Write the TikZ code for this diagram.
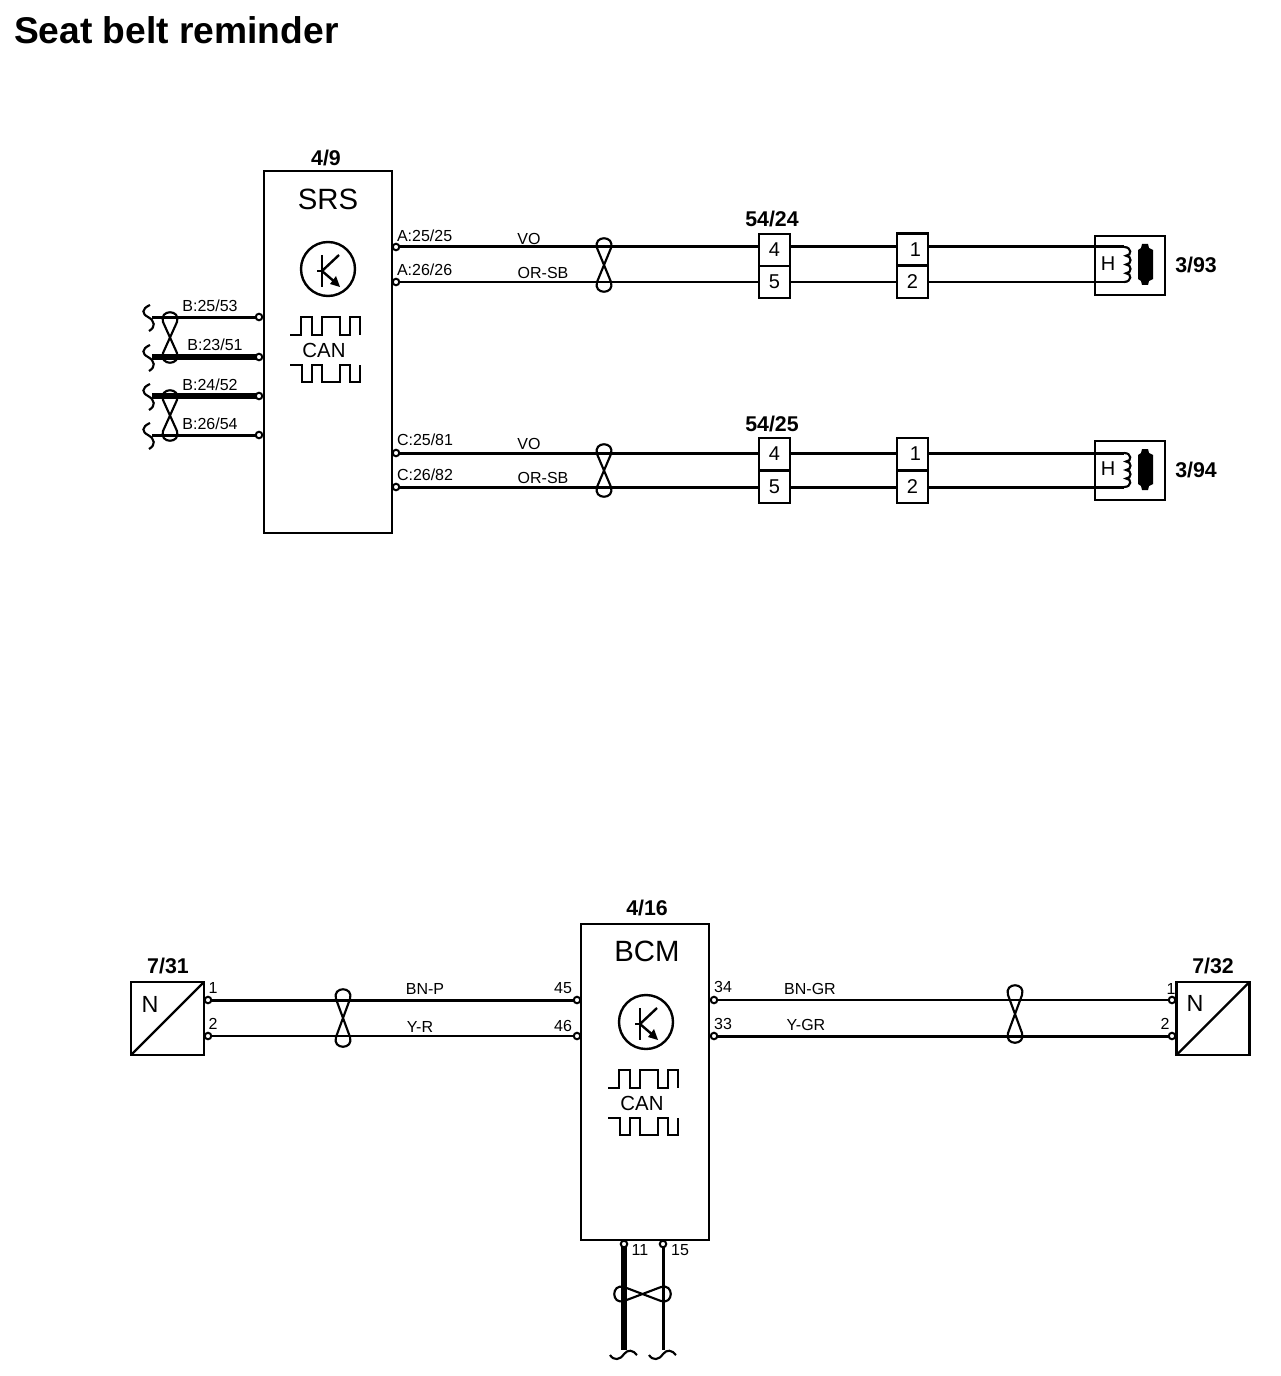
\documentclass[tikz,border=0pt]{standalone}
\usepackage{fontspec}
\setmainfont{Liberation Sans}
\newcommand\fs[1]{\fontsize{#1pt}{#1pt}\selectfont}
\newcommand\vtwist[3]{% x, top tip, bottom tip
  \pgfmathsetmacro\tm{(#2+#3)/2}
  \draw[lobe] (#1,\tm) -- (#1-7,#2+10) .. controls (#1-11,#2-3) and (#1+11,#2-3) .. (#1+7,#2+10) -- (#1-7,#3-10) .. controls (#1-11,#3+3) and (#1+11,#3+3) .. (#1+7,#3-10) -- cycle;}
\newcommand\htwist[3]{% y, left tip, right tip
  \pgfmathsetmacro\tm{(#2+#3)/2}
  \draw[lobe] (\tm,#1) -- (#2+10,#1-7) .. controls (#2-3,#1-11) and (#2-3,#1+11) .. (#2+10,#1+7) -- (#3-10,#1-7) .. controls (#3+3,#1-11) and (#3+3,#1+11) .. (#3-10,#1+7) -- cycle;}
\newcommand\lsquig[2]{% x of wire end, y of wire
  \draw[lobe] (#1-2,#2-12) .. controls (#1-11,#2-8) and (#1-10,#2-3) .. (#1-4,#2) .. controls (#1+3,#2+4) and (#1+4,#2+10) .. (#1-3,#2+14);}
\newcommand\bsquig[2]{% x of wire end, y of wire end
  \draw[lobe] (#1-14,#2+5) .. controls (#1-10,#2+11) and (#1-4,#2+10) .. (#1,#2+4) .. controls (#1+4,#2-1) and (#1+9,#2) .. (#1+13,#2+5);}
\newcommand\coil[3]{% x, top y, bottom y
  \pgfmathsetmacro\cb{#2+(#3-#2)/4}
  \pgfmathsetmacro\cc{#2+(#3-#2)/2}
  \pgfmathsetmacro\cd{#2+3*(#3-#2)/4}
  \draw[lobe] (#1,#2)
   .. controls (#1+8,#2) and (#1+8,\cb) .. (#1+2,\cb)
   .. controls (#1+8,\cb) and (#1+8,\cc) .. (#1+2,\cc)
   .. controls (#1+8,\cc) and (#1+8,\cd) .. (#1+2,\cd)
   .. controls (#1+8,\cd) and (#1+8,#3) .. (#1,#3);}
\newcommand\heatbar[1]{% top wire y
  \fill (1142,#1-3) -- (1148,#1-3) -- (1149,#1+1) -- (1153,#1+3) -- (1153,#1+32) -- (1149,#1+34) -- (1148,#1+38) -- (1142,#1+38) -- (1141,#1+34) -- (1138,#1+32) -- (1138,#1+3) -- (1141,#1+1) -- cycle;}
\newcommand\ecuinner[3]{% name, dx, dy
  \begin{scope}[shift={(#2,#3)}]
    \node[sym,minimum size=54*0.75pt] (#1tr) at (328,269) {};
    \draw[sw] (317,271) -- (322,271);
    \draw[line width=2.2pt] (322,255) -- (322,287);
    \draw[sw] (322,271) -- (339,255);
    \draw[sw] (322,271) -- (336,283);
    \fill (340,287) -- (330,284) -- (336,276) -- cycle;
    \draw[sw] (290,335) -- (301,335) -- (301,317) -- (312,317) -- (312,335) -- (322,335) -- (322,317) -- (340,317) -- (340,335) -- (350,335) -- (350,317) -- (360,317) -- (360,335);
    \draw[sw] (290,365) -- (302,365) -- (302,382) -- (312,382) -- (312,365) -- (322,365) -- (322,382) -- (340,382) -- (340,365) -- (350,365) -- (350,382) -- (360,382) -- (360,365);
    \node[txt,font=\fs{15.3}] (#1can) at (324,350) {CAN};
  \end{scope}}
\tikzset{
  x=0.75pt,y=-0.75pt,
  box/.style={draw,line width=1.8pt,inner sep=0pt,outer sep=0pt,rectangle,fill=white},
  cell/.style={draw,line width=1.7pt,inner sep=0pt,outer sep=0pt,rectangle,minimum width=31*0.75pt,minimum height=32*0.75pt,font=\fs{15}},
  pinc/.style={circle,draw,line width=1.5pt,fill=white,inner sep=0pt,outer sep=0pt,minimum size=6.5*0.75pt},
  txt/.style={inner sep=0pt,outer sep=0pt},
  small/.style={txt,font=\fs{12}},
  tag/.style={txt,font=\fs{16}\bfseries},
  sym/.style={circle,draw,line width=1.8pt,inner sep=0pt,outer sep=0pt},
  sw/.style={line width=1.8pt},
  lobe/.style={line width=1.6pt},
  wthin/.style={line width=1.5pt},
  wmid/.style={line width=2.25pt},
  wheavy/.style={line width=4.5pt},
}
\begin{document}
\begin{tikzpicture}
\useasboundingbox (0,0) rectangle (1280,1376);
\fill[white] (0,0) rectangle (1280,1376);
\node[txt,anchor=base west,font=\fs{27.9}\bfseries] (title) at (14,44) {Seat belt reminder};

% ---------- SRS
\node[box,minimum width=128*0.75pt,minimum height=362*0.75pt] (srs) at (328,352) {};
\node[tag] (t49) at (326,158) {4/9};
\node[txt,font=\fs{22}] (srsname) at (328,199) {SRS};
\ecuinner{srs}{0}{0}

% SRS pins
\node[pinc] (pa25) at (396,247) {};
\node[pinc] (pa26) at (396,282) {};
\node[pinc] (pc25) at (396,453) {};
\node[pinc] (pc26) at (396,487) {};
\node[pinc] (pb25) at (259,317) {};
\node[pinc] (pb23) at (259,357) {};
\node[pinc] (pb24) at (259,396) {};
\node[pinc] (pb26) at (259,435) {};

% left stubs
\coordinate (eb25) at (152,317);
\coordinate (eb23) at (152,357);
\coordinate (eb24) at (152,396);
\coordinate (eb26) at (152,435);
\draw[wmid] (eb25) -- (pb25);
\draw[wheavy] (eb23) -- (pb23);
\draw[wheavy] (eb24) -- (pb24);
\draw[wmid] (eb26) -- (pb26);
\lsquig{152}{317}\lsquig{152}{357}\lsquig{152}{396}\lsquig{152}{435}
\vtwist{170}{312}{363}
\vtwist{170}{390}{441}
\node[small] (lb25) at (210,306) {B:25/53};
\node[small] (lb23) at (215,345) {B:23/51};
\node[small] (lb24) at (210,385) {B:24/52};
\node[small] (lb26) at (210,424) {B:26/54};

% connectors row 1
\node[cell] (c1a) at (774.5,250) {4};
\node[cell,minimum height=32*0.75pt] (c1b) at (774.5,282) {5};
\node[cell] (d1a) at (912.5,249.5) {\hspace*{4.5pt}1};
\node[cell] (d1b) at (912.5,282) {2};
\node[tag] (t5424) at (772,219) {54/24};
% connectors row 2
\node[cell] (c2a) at (774.5,454) {4};
\node[cell] (c2b) at (774.5,487) {5};
\node[cell] (d2a) at (912.5,454) {\hspace*{4.5pt}1};
\node[cell] (d2b) at (912.5,487) {2};
\node[tag] (t5425) at (772,424) {54/25};

% heater elements
\node[box,minimum width=70*0.75pt,minimum height=59*0.75pt] (h1) at (1130,265.5) {};
\node[txt,font=\fs{15}] (h1t) at (1108,264) {H};
\coordinate (h1a) at (1124,247);
\coordinate (h1b) at (1124,282);
\coil{1124}{247}{282}
\heatbar{247}
\node[tag] (t393) at (1196,265) {3/93};
\node[box,minimum width=70*0.75pt,minimum height=59*0.75pt] (h2) at (1130,470.5) {};
\node[txt,font=\fs{15}] (h2t) at (1108,469) {H};
\coordinate (h2a) at (1124,453);
\coordinate (h2b) at (1124,487);
\coil{1124}{453}{487}
\heatbar{452}
\node[tag] (t394) at (1196,470) {3/94};

% wires row 1
\draw[wmid] (pa25) -- (pa25 -| c1a.west);
\draw[wthin] (pa26) -- (pa26 -| c1b.west);
\draw[wmid] (c1a.east |- pa25) -- (d1a.west |- pa25);
\draw[wthin] (c1b.east |- pa26) -- (d1b.west |- pa26);
\draw[wmid] (d1a.east |- pa25) -- (h1a);
\draw[wthin] (d1b.east |- pa26) -- (h1b);
\vtwist{604}{238}{292}
\node[small,anchor=west] (la25) at (397,236) {A:25/25};
\node[small,anchor=west] (la26) at (397,270) {A:26/26};
\node[small] (lvo1) at (529,239) {VO};
\node[small] (lor1) at (543,273) {OR-SB};

% wires row 2
\draw[wmid] (pc25) -- (pc25 -| c2a.west);
\draw[wmid] (pc26) -- (pc26 -| c2b.west);
\draw[wmid] (c2a.east |- pc25) -- (d2a.west |- pc25);
\draw[wmid] (c2b.east |- pc26) -- (d2b.west |- pc26);
\draw[wmid] (d2a.east |- pc25) -- (h2a);
\draw[wmid] (d2b.east |- pc26) -- (h2b);
\vtwist{604}{444}{497}
\node[small,anchor=west] (lc25) at (397,440) {C:25/81};
\node[small,anchor=west] (lc26) at (397,475) {C:26/82};
\node[small] (lvo2) at (529,444) {VO};
\node[small] (lor2) at (543,478) {OR-SB};

% ---------- BCM
\node[box,minimum width=128*0.75pt,minimum height=316*0.75pt] (bcm) at (645,1082) {};
\node[tag] (t416) at (647,908) {4/16};
\node[txt,font=\fs{22}] (bcmname) at (647,951) {BCM};
\ecuinner{bcm}{318}{753}

% sensors
\node[box,minimum width=73*0.75pt,minimum height=73*0.75pt] (s1) at (167.5,1018.5) {};
\draw[line width=1.8pt] (s1.south west) -- (s1.north east);
\node[txt,font=\fs{17.5}] (s1n) at (150,1004) {N};
\node[tag] (t731) at (168,966) {7/31};
\node[box,minimum width=73*0.75pt,minimum height=73*0.75pt] (s2) at (1213,1018.5) {};
\draw[line width=1.8pt] (s2.south west) -- (s2.north east);
\node[txt,font=\fs{17.5}] (s2n) at (1195,1003) {N};
\node[tag] (t732) at (1213,966) {7/32};

% BCM pins
\node[pinc] (ps11) at (208,1000) {};
\node[pinc] (ps12) at (208,1036) {};
\node[pinc] (pb45) at (577,1000) {};
\node[pinc] (pb46) at (577,1036) {};
\node[pinc] (pb34) at (714,1000) {};
\node[pinc] (pb33) at (714,1036) {};
\node[pinc] (ps21) at (1172,1000) {};
\node[pinc] (ps22) at (1172,1036) {};
\node[pinc] (pb11) at (624,1244) {};
\node[pinc] (pb15) at (663,1244) {};

% BCM wires
\draw[wmid] (ps11) -- (pb45);
\draw[wthin] (ps12) -- (pb46);
\draw[wthin] (pb34) -- (ps21);
\draw[wmid] (pb33) -- (ps22);
\vtwist{343}{989}{1047}
\vtwist{1015}{985}{1043}
\coordinate (e11) at (624,1350);
\coordinate (e15) at (663,1350);
\draw[wheavy] (pb11) -- (e11);
\draw[wmid] (pb15) -- (e15);
\htwist{1294}{614}{671}
\bsquig{624}{1350}\bsquig{663}{1350}

\node[small] (n1) at (213,988) {1};
\node[small] (n2) at (213,1024) {2};
\node[small] (lbnp) at (425,989) {BN-P};
\node[small] (lyr) at (420,1027) {Y-R};
\node[small] (n45) at (563,988) {45};
\node[small] (n46) at (563,1026) {46};
\node[small] (n34) at (723,987) {34};
\node[small] (n33) at (723,1024) {33};
\node[small] (lbngr) at (810,989) {BN-GR};
\node[small] (lygr) at (806,1025) {Y-GR};
\node[small] (n1r) at (1171,989) {1};
\node[small] (n2r) at (1165,1024) {2};
\node[small] (n11) at (640,1250) {11};
\node[small] (n15) at (680,1250) {15};
\end{tikzpicture}
\end{document}
